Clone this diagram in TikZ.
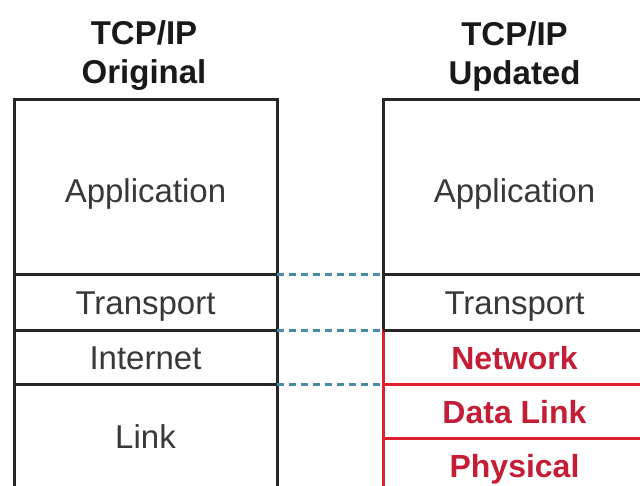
\documentclass[tikz,border=0pt]{standalone}
\usepackage{fontspec}
\setmainfont{Liberation Sans}
\usetikzlibrary{positioning}
\definecolor{layergray}{HTML}{383838}
\definecolor{newred}{HTML}{E0202F}
\definecolor{textred}{HTML}{C41E36}
\definecolor{dashblue}{HTML}{4A8CA6}
\tikzset{
	layer/.style = {
		rectangle,
		draw=black!85,
		line width=3pt,
		outer sep=0pt,
		inner sep=0pt,
		minimum width=263pt,
		text height=24pt,
		text depth=0pt,
		text=layergray,
		font=\fontsize{33}{39}\selectfont
	},
	layer_top/.style = {
		layer,
		minimum height=175pt,
		text height=30pt,
		text depth=0pt
	},
	layer_new/.style = {
		layer,
		draw=newred,
		line width=3pt,
		text=textred,
		font=\fontsize{32}{38}\selectfont\bfseries
	},
	stack_head/.style = {
		align=center,
		inner sep=0pt,
		text=black!90,
		font=\fontsize{33}{39}\selectfont\bfseries
	},
	match_line/.style = {
		draw=dashblue,
		line width=3pt,
		dash pattern=on 7pt off 5pt
	}
}

\begin{document}
\begin{tikzpicture}[x=1pt,y=1pt]
\useasboundingbox (0,0) rectangle (640,-486);
% headers
\node [stack_head] (h_orig) at (144,-56) {TCP/IP\\Original};
\node [stack_head] (h_upd) at (514.5,-56) {TCP/IP\\Updated};
% updated stack, red layers first
\node [layer_top] (u_app) at (514.5,-187.5) {Application};
\node [layer, minimum height=56pt, below=0pt of u_app] (u_trans) {Transport};
\node [layer_new, minimum height=53pt, below=0pt of u_trans] (u_net) {Network};
\node [layer_new, minimum height=54pt, below=0pt of u_net] (u_dl) {Data Link};
\node [layer_new, minimum height=54pt, below=0pt of u_dl] (u_phy) {Physical};
\draw [black!85, line width=3pt] (u_trans.south west) -- (u_trans.south east);
% original stack
\node [layer_top] (o_app) at (145.5,-187.5) {Application};
\node [layer, minimum height=56pt, below=0pt of o_app] (o_trans) {Transport};
\node [layer, minimum height=53pt, below=0pt of o_trans] (o_inet) {Internet};
\node [layer, minimum height=104pt, below=0pt of o_inet] (o_link) {Link};
% matching boundaries
\draw [match_line] (o_app.south east) -- (u_app.south west);
\draw [match_line] (o_trans.south east) -- (u_trans.south west);
\draw [match_line] (o_inet.south east) -- (u_net.south west);
\end{tikzpicture}
\end{document}
